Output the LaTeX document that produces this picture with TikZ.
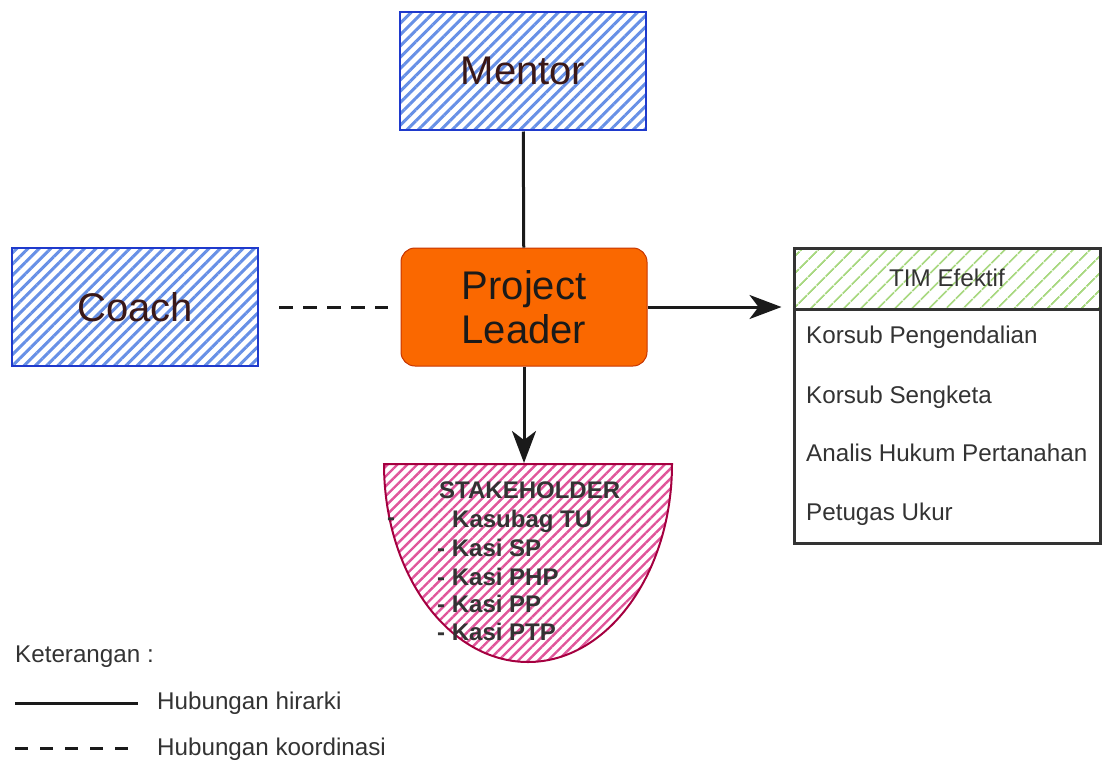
\documentclass[tikz,border=0pt]{standalone}
\usepackage{fontspec}
\setmainfont{Liberation Sans}
\usetikzlibrary{patterns.meta,arrows.meta}
\definecolor{bluebd}{HTML}{1F3ACC}
\definecolor{bluehatch}{HTML}{6790E6}
\definecolor{darktxt}{HTML}{3A1818}
\definecolor{orangefill}{HTML}{FA6800}
\definecolor{orangebd}{HTML}{C73500}
\definecolor{pinkbd}{HTML}{A50040}
\definecolor{pinkhatch}{HTML}{E0559A}
\definecolor{greenhatch}{HTML}{A8D880}
\definecolor{greytxt}{HTML}{333333}
\definecolor{linec}{HTML}{1A1A1A}
\begin{document}
\begin{tikzpicture}[x=1pt,y=-1pt,
  bluebox/.style={draw=bluebd, line width=2.2pt, minimum width=246pt, minimum height=118pt,
    pattern={Lines[angle=45,distance=8pt,line width=3pt]}, pattern color=bluehatch,
    text=darktxt, font=\fontsize{40}{46}\selectfont},
  plbox/.style={draw=orangebd, line width=1pt, fill=orangefill, rounded corners=14pt,
    minimum width=246pt, minimum height=118pt, text=linec, align=center,
    font=\fontsize{40}{46}\selectfont},
  conn/.style={draw=linec, line width=3pt},
  arr/.style={conn, -{Stealth[length=32pt,width=24pt,inset=9pt]}},
  dashconn/.style={draw=linec, line width=3pt, dash pattern=on 14pt off 10pt},
  small/.style={font=\fontsize{24.2}{28}\selectfont, inner sep=0pt},
  stk/.style={small, font=\fontsize{24}{28}\selectfont\bfseries, text=greytxt, anchor=base west},
  item/.style={small, text=greytxt, anchor=base west},
]
\useasboundingbox (0,0) rectangle (1102,763);

% nodes
\node[bluebox] (mentor) at (523,71) {Mentor};
\node[bluebox] (coach) at (135,307) {Coach};
\node[plbox] (pl) at (524,307) {Project\\[-2pt]Leader};

% stakeholder bowl
\draw[draw=pinkbd, line width=2pt, pattern={Lines[angle=45,distance=7pt,line width=2.4pt]}, pattern color=pinkhatch]
  (384,464) -- (672,464) .. controls (672,573.4) and (607.5,662) .. (528,662)
  .. controls (448.5,662) and (384,573.4) .. (384,464) -- cycle;
\coordinate (stake) at (524,463);
\node[stk] (s0) at (439,498) {STAKEHOLDER};
\node[stk] (s1a) at (387,525) {-};
\node[stk] (s1) at (452,527) {Kasubag TU};
\node[stk] (s2) at (437,556) {- Kasi SP};
\node[stk] (s3) at (437,585) {- Kasi PHP};
\node[stk] (s4) at (437,612) {- Kasi PP};
\node[stk] (s5) at (437,640) {- Kasi PTP};

% TIM Efektif
\node[draw=none, minimum width=306pt, minimum height=60pt, inner sep=0pt,
  pattern={Lines[angle=45,distance=13pt,line width=2.2pt]}, pattern color=greenhatch]
  (timhead) at (947,278) {};
\node[draw=greytxt, line width=3pt, minimum width=306pt, minimum height=295pt, inner sep=0pt]
  (tim) at (947,395.5) {};
\draw[draw=greytxt, line width=3pt] (timhead.south west) -- (timhead.south east);
\node[small, text=greytxt] (timt) at (timhead) {TIM Efektif};
\node[item] (t1) at (806,343) {Korsub Pengendalian};
\node[item] (t2) at (806,403) {Korsub Sengketa};
\node[item] (t3) at (806,461) {Analis Hukum Pertanahan};
\node[item] (t4) at (806,520) {Petugas Ukur};

% connectors
\draw[conn] (mentor) -- (pl);
\draw[dashconn, shorten <=20pt, shorten >=13pt] (coach) -- (pl);
\draw[arr, shorten >=11pt] (pl) -- (pl -| tim.west);
\draw[arr] (pl) -- (stake);

% legend
\node[small, text=greytxt, anchor=west] (ket) at (15,657) {Keterangan :};
\coordinate (l1a) at (15,703);
\coordinate (l1b) at (138,703);
\coordinate (l2a) at (15,748);
\coordinate (l2b) at (128,748);
\draw[conn] (l1a) -- (l1b);
\draw[dashconn, dash pattern=on 13pt off 12pt] (l2a) -- (l2b);
\node[small, text=greytxt, anchor=west] (h1) at (157,703) {Hubungan hirarki};
\node[small, text=greytxt, anchor=west] (h2) at (157,749) {Hubungan koordinasi};
\end{tikzpicture}
\end{document}
